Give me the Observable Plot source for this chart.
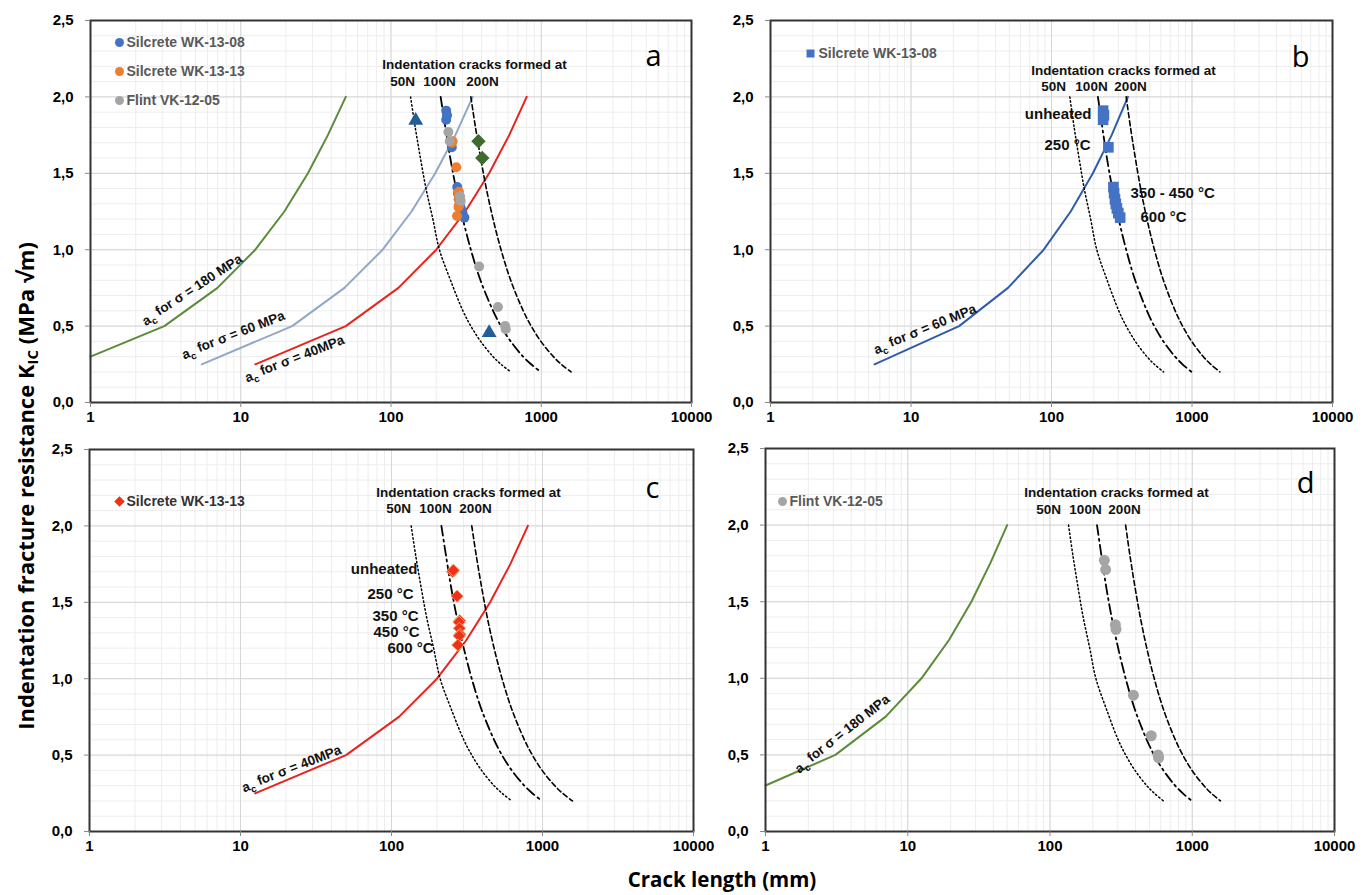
<!DOCTYPE html>
<html>
<head>
<meta charset="utf-8">
<script src="https://cdn.jsdelivr.net/npm/d3@7"></script>
<script src="https://cdn.jsdelivr.net/npm/@observablehq/plot@0.6"></script>
<style>
  html, body { margin: 0; padding: 0; background: #fff; }
  body { width: 1369px; height: 895px; position: relative; overflow: hidden; font-family: "Liberation Sans", Arial, sans-serif; }
  .panel { position: absolute; }
  .title { position: absolute; font-family: "Open Sans", "DejaVu Sans", sans-serif; font-weight: bold; color: #000; white-space: nowrap; z-index: 5; line-height: 1.1; }
  #ytitle { left: 25px; top: 486px; font-size: 22px; transform: translate(-50%, -50%) rotate(-90deg); }
  #xtitle { left: 722px; top: 879px; font-size: 20.5px; transform: translate(-50%, -50%); }
  .title sub { font-size: 0.68em; vertical-align: -0.25em; line-height: 0; }
</style>
</head>
<body>
<div id="pa" class="panel" style="left:0px;top:0px"></div>
<div id="pb" class="panel" style="left:700px;top:0px"></div>
<div id="pc" class="panel" style="left:0px;top:430px"></div>
<div id="pd" class="panel" style="left:700px;top:430px"></div>
<div id="ytitle" class="title">Indentation fracture resistance K<sub>IC</sub> (MPa √m)</div>
<div id="xtitle" class="title">Crack length (mm)</div>
<script>
// ---------- data ----------
const xTicks = [1, 10, 100, 1000, 10000];
const yTicks = [0, 0.5, 1.0, 1.5, 2.0, 2.5];

// critical crack size curves (a_c) for sigma = 180, 60, 40 MPa
const k180 = [0.3, 0.5, 0.75, 1.0, 1.25, 1.5, 1.75, 2.0];
const ac180 = [1, 3.1, 7, 12.5, 19.5, 28, 38, 50];
const kSig = [0.25, 0.5, 0.75, 1.0, 1.25, 1.5, 1.75, 2.0];
const ac60 = [5.5, 22, 49, 88, 137, 197, 268, 350];
const ac40 = [12.5, 50, 112, 200, 312, 450, 612, 800];

// indentation crack curves at 50N, 100N, 200N
const kInd = [2.0, 1.8, 1.6, 1.4, 1.2, 1.0, 0.8, 0.6, 0.5, 0.4, 0.3, 0.25, 0.2];
const c50N = [135, 145, 157, 171, 190, 210, 249, 301, 340, 395, 478, 540, 627];
const c100N = [214, 230, 248, 271, 301, 340, 394, 478, 539, 626, 758, 856, 993];
const c200N = [340, 365, 395, 431, 478, 540, 626, 759, 857, 994, 1205, 1360, 1578];

// measured samples
const seriesNames = ["Silcrete WK-13-08", "Silcrete WK-13-13", "Flint VK-12-05"];
const wk08C = [233, 233, 236, 254, 276, 279, 283, 287, 292, 299, 308];
const wk08K = [1.91, 1.85, 1.88, 1.67, 1.41, 1.37, 1.33, 1.30, 1.27, 1.24, 1.21];
const wk13C = [254, 257, 272, 283, 280, 282, 284, 281, 275];
const wk13K = [1.70, 1.71, 1.54, 1.38, 1.37, 1.33, 1.29, 1.28, 1.22];
const vkC = [241, 246, 288, 291, 386, 515, 575, 580];
const vkK = [1.77, 1.71, 1.35, 1.32, 0.89, 0.625, 0.50, 0.48];
const triC = [146, 450];
const triK = [1.845, 0.456];
const dmdC = [382, 405];
const dmdK = [1.71, 1.60];

const sigmaLabels = ["a_c for σ = 180 MPa", "a_c for σ = 60 MPa", "a_c for σ = 40MPa"];
const loadLabels = ["50N", "100N", "200N"];
const crackTitle = "Indentation cracks formed at";
const tempB = ["unheated", "250 °C", "350 - 450 °C", "600 °C"];
const tempC = ["unheated", "250 °C", "350 °C", "450 °C", "600 °C"];
const panelLetters = ["a", "b", "c", "d"];

// ---------- helpers ----------
const C = {
  green: "#5B8C3A", steel: "#8FA8C8", blueLine: "#2F5CAA", red: "#E8231E",
  blue: "#4472C4", orange: "#ED7D31", gray: "#A5A5A5", tri: "#235D95", dmd: "#3E6B2E",
  legend: "#595959"
};
const xMinor = d3.scaleLog().domain([1, 10000]).ticks();
const yMinor = d3.range(0, 26).map(i => i / 10);

const pts = (xs, ys) => xs.map((x, i) => ({x, y: ys[i]}));

const line = (xs, ys, stroke) => Plot.line(pts(xs, ys), {x: "x", y: "y", stroke, strokeWidth: 2});
const indentCurves = () => [
  Plot.line(pts(c50N, kInd), {x: "x", y: "y", curve: "catmull-rom", stroke: "#000", strokeWidth: 1.5, strokeDasharray: "1.4 2.6"}),
  Plot.line(pts(c100N, kInd), {x: "x", y: "y", curve: "catmull-rom", stroke: "#000", strokeWidth: 1.8, strokeDasharray: "10 4 2 4"}),
  Plot.line(pts(c200N, kInd), {x: "x", y: "y", curve: "catmull-rom", stroke: "#000", strokeWidth: 1.6, strokeDasharray: "5 3"})
];
const T = (txt, dx, dy, o = {}) => Plot.text([txt], {
  frameAnchor: "top-left", dx, dy, text: d => d, textAnchor: "start", lineAnchor: "middle",
  fontSize: 14, fontWeight: "bold", fill: "#111", ...o
});
const letter = (txt, dx, dy) => T(txt, dx, dy, {fontSize: 29, fontWeight: "normal", fontFamily: "Open Sans, sans-serif", textAnchor: "middle", fill: "#000"});
const loads = (dxs, dy) => loadLabels.map((s, i) => T(s, dxs[i], dy, {textAnchor: "middle", fontSize: 13.5}));
const legendMark = (dx, dy, o) => Plot.dot([0], {frameAnchor: "top-left", dx, dy, ...o});

function panel(id, dims, marks) {
  const svg = Plot.plot({
    width: dims.w, height: dims.h,
    marginLeft: dims.l, marginRight: dims.r, marginTop: dims.t, marginBottom: dims.b,
    x: {type: "log", domain: [1, 10000]},
    y: {domain: [0, 2.5]},
    style: {fontFamily: "'Liberation Sans', Arial, sans-serif", fontSize: "15px", fontWeight: "bold", color: "#000", background: "transparent", overflow: "visible"},
    marks: [
      Plot.gridX(xMinor, {stroke: "#ededed", strokeOpacity: 1}),
      Plot.gridY(yMinor, {stroke: "#ededed", strokeOpacity: 1}),
      Plot.gridX(xTicks, {stroke: "#d6d6d6", strokeOpacity: 1}),
      Plot.gridY(yTicks, {stroke: "#d6d6d6", strokeOpacity: 1}),
      ...marks,
      Plot.frame({stroke: "#333", strokeWidth: 2}),
      Plot.axisX(xTicks, {tickSize: 5, tickPadding: 4, tickFormat: d => String(d), label: null, fontSize: 15, fontWeight: "bold", stroke: "#888"}),
      Plot.axisY(yTicks, {tickSize: 5, tickPadding: 12, tickFormat: d => d.toFixed(1).replace(".", ","), label: null, fontSize: 15, fontWeight: "bold", stroke: "#888"})
    ]
  });
  // subscript c in a_c labels
  d3.select(svg).selectAll("text").each(function () {
    const t = this.textContent;
    if (t.startsWith("a_c")) {
      const s = d3.select(this);
      s.text(null);
      s.append("tspan").text("a");
      s.append("tspan").attr("font-size", "0.72em").attr("dy", "0.35em").text("c");
      s.append("tspan").attr("dy", "-0.35em").text(t.slice(3));
    }
  });
  document.getElementById(id).appendChild(svg);
}

// ---------- panel a ----------
panel("pa", {w: 700, h: 430, l: 90, r: 9, t: 20, b: 28}, [
  line(ac180, k180, C.green),
  line(ac60, kSig, C.steel),
  line(ac40, kSig, C.red),
  ...indentCurves(),
  Plot.dot(pts(wk08C, wk08K), {x: "x", y: "y", r: 5, fill: C.blue}),
  Plot.dot(pts(wk13C, wk13K), {x: "x", y: "y", r: 5, fill: C.orange}),
  Plot.dot(pts(vkC, vkK), {x: "x", y: "y", r: 5, fill: C.gray}),
  Plot.dot(pts(triC, triK), {x: "x", y: "y", r: 5.5, symbol: "triangle", fill: C.tri}),
  Plot.dot(pts(dmdC, dmdK), {x: "x", y: "y", r: 5.5, symbol: "diamond2", fill: C.dmd, stroke: C.dmd}),
  ...[C.blue, C.orange, C.gray].map((c, i) => legendMark(29, 22 + 29 * i, {r: 4.5, fill: c})),
  ...seriesNames.map((s, i) => T(s, 36, 22 + 29 * i, {fill: C.legend})),
  T(crackTitle, 384, 44, {textAnchor: "middle", fontSize: 13.5}),
  ...loads([312, 349, 392], 61),
  letter(panelLetters[0], 563, 36),
  T(sigmaLabels[0], 53, 302, {rotate: -33, fontSize: 13.5}),
  T(sigmaLabels[1], 92, 335, {rotate: -21, fontSize: 13.5}),
  T(sigmaLabels[2], 155, 358, {rotate: -21, fontSize: 13.5})
]);

// ---------- panel b ----------
panel("pb", {w: 669, h: 430, l: 70, r: 37, t: 20, b: 28}, [
  line(ac60, kSig, C.blueLine),
  ...indentCurves(),
  Plot.dot(pts(wk08C, wk08K), {x: "x", y: "y", r: 6, symbol: "square", fill: C.blue}),
  legendMark(40, 33, {r: 4.5, symbol: "square", fill: C.blue}),
  T(seriesNames[0], 48, 33, {fill: C.legend}),
  T(crackTitle, 353, 50, {textAnchor: "middle", fontSize: 13.5}),
  ...loads([283, 321, 360], 66),
  letter(panelLetters[1], 530, 37),
  T(tempB[0], 321, 94, {textAnchor: "end", fontSize: 15}),
  T(tempB[1], 320, 125, {textAnchor: "end", fontSize: 15}),
  T(tempB[2], 360, 173, {fontSize: 15}),
  T(tempB[3], 370, 197, {fontSize: 15}),
  T(sigmaLabels[1], 104, 330, {rotate: -22, fontSize: 13.5})
]);

// ---------- panel c ----------
panel("pc", {w: 700, h: 440, l: 89, r: 7, t: 19, b: 39}, [
  line(ac40, kSig, C.red),
  ...indentCurves(),
  Plot.dot(pts(wk13C, wk13K), {x: "x", y: "y", r: 5.5, symbol: "diamond2", fill: "#F0301A", stroke: "#F5A05A", strokeWidth: 1}),
  legendMark(30, 52, {r: 3.8, symbol: "diamond2", fill: "#F0301A", stroke: "#F0301A"}),
  T(seriesNames[1], 37, 52, {fill: "#333"}),
  T(crackTitle, 379, 43, {textAnchor: "middle", fontSize: 13.5}),
  ...loads([309, 346, 386], 59),
  letter(panelLetters[2], 563, 39),
  T(tempC[0], 328, 120, {textAnchor: "end", fontSize: 15}),
  T(tempC[1], 324, 145, {textAnchor: "end", fontSize: 15}),
  T(tempC[2], 329, 167, {textAnchor: "end", fontSize: 15}),
  T(tempC[3], 330, 183, {textAnchor: "end", fontSize: 15}),
  T(tempC[4], 344, 199, {textAnchor: "end", fontSize: 15}),
  T(sigmaLabels[2], 153, 339, {rotate: -21, fontSize: 13.5})
]);

// ---------- panel d ----------
panel("pd", {w: 669, h: 440, l: 65, r: 35, t: 18, b: 39}, [
  line(ac180, k180, C.green),
  ...indentCurves(),
  Plot.dot(pts(vkC, vkK), {x: "x", y: "y", r: 5.5, fill: C.gray}),
  legendMark(17, 53, {r: 4.5, fill: C.gray}),
  T(seriesNames[2], 24, 53, {fill: C.legend}),
  T(crackTitle, 351, 44, {textAnchor: "middle", fontSize: 13.5}),
  ...loads([283, 320, 359], 61),
  letter(panelLetters[3], 540, 35),
  T(sigmaLabels[0], 31, 322, {rotate: -38, fontSize: 13.5})
]);
</script>
</body>
</html>
